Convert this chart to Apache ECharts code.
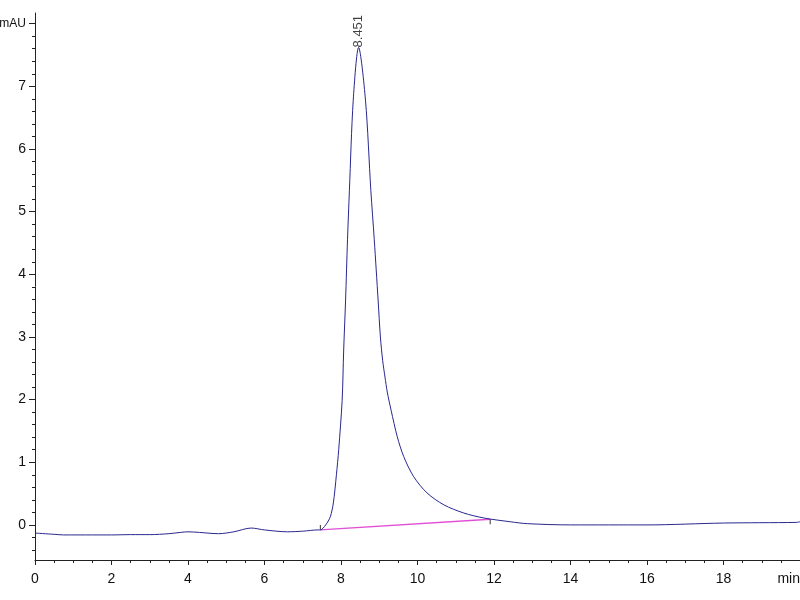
<!DOCTYPE html>
<html>
<head>
<meta charset="utf-8">
<script src="https://cdn.jsdelivr.net/npm/echarts@6/dist/echarts.min.js"></script>
<style>html,body{margin:0;padding:0;background:#fff}#c{width:800px;height:600px}</style>
</head>
<body>
<div id="c"></div>
<script>
// Retention time (min) and signal (mAU)
var times = [0, 0.5, 0.75, 1.5, 2.0, 2.5, 3.0, 3.5, 3.8, 4.0, 4.3, 4.8, 5.2, 5.65, 6.0, 6.6, 7.0, 7.4, 7.46, 7.6, 7.72, 7.8, 7.88, 7.94, 8.03, 8.07, 8.12, 8.17, 8.22, 8.32, 8.46, 8.64, 8.78, 8.87, 8.97, 9.03, 9.09, 9.15, 9.21, 9.31, 9.47, 9.64, 9.90, 10.25, 10.69, 11.21, 11.74, 12.43, 12.87, 14, 16, 18, 19.9, 20];
var signal = [-0.13, -0.15, -0.16, -0.16, -0.16, -0.155, -0.155, -0.14, -0.12, -0.11, -0.12, -0.14, -0.11, -0.05, -0.08, -0.11, -0.10, -0.08, -0.08, 0.0, 0.13, 0.35, 0.80, 1.20, 1.99, 2.79, 3.59, 4.55, 5.34, 6.78, 7.62, 6.78, 5.34, 4.55, 3.59, 3.0, 2.62, 2.36, 2.12, 1.83, 1.41, 1.09, 0.77, 0.51, 0.32, 0.19, 0.11, 0.05, 0.02, 0.0, 0.0, 0.03, 0.04, 0.05];
// Integration baseline
var baseTimes = [7.46, 11.9];
var baseValues = [-0.08, 0.09];
// Peak annotation
var peakTime = [8.451];
var peakHeight = [7.62];
var peakNames = ['8.451'];
// Axis ticks
var yMajor = [0, 1, 2, 3, 4, 5, 6, 7, 8];
var yMinor = [];
for (var i = -2; i <= 40; i++) { yMinor.push(+(i * 0.2).toFixed(1)); }

var mainData = times.map(function (t, i) { return [t, signal[i]]; });
var baseData = baseTimes.map(function (t, i) { return [t, baseValues[i]]; });
var markL = [[baseTimes[0], baseValues[0]], [baseTimes[0], baseValues[0] + 0.08]];
var markR = [[baseTimes[1], baseValues[1]], [baseTimes[1], baseValues[1] - 0.08]];
var peakData = peakTime.map(function (t, i) { return { value: [t, peakHeight[i]], name: peakNames[i] }; });

var FONT = "'Liberation Sans Narrow', 'Liberation Sans', Arial, sans-serif";
var AX = '#222';
var chart = echarts.init(document.getElementById('c'), null, { renderer: 'canvas' });
chart.setOption({
  backgroundColor: '#fff',
  animation: false,
  grid: { left: 35, right: 0, top: 13, bottom: 40, containLabel: false, outerBoundsMode: 'none' },
  xAxis: {
    type: 'value', min: 0, max: 20, interval: 2,
    axisLine: { show: true, onZero: false, lineStyle: { color: AX, width: 1 } },
    axisTick: { show: true, length: 5, lineStyle: { color: AX } },
    minorTick: { show: true, splitNumber: 4, length: 3, lineStyle: { color: AX } },
    splitLine: { show: false },
    axisLabel: {
      color: '#111', fontFamily: FONT, fontSize: 14, margin: 12,
      showMaxLabel: true, alignMaxLabel: 'right',
      formatter: function (v) { return v === 20 ? 'min' : String(v); }
    }
  },
  yAxis: [{
    type: 'value', min: -0.56, max: 8.17,
    axisLine: { show: true, onZero: false, lineStyle: { color: AX, width: 1 } },
    axisTick: { show: true, length: 6, customValues: yMajor, lineStyle: { color: AX } },
    splitLine: { show: false },
    axisLabel: {
      color: '#111', fontFamily: FONT, fontSize: 14, margin: 9,
      customValues: yMajor,
      formatter: function (v) { return v === 8 ? '{u|mAU}' : String(v); },
      rich: { u: { fontSize: 12, fontFamily: FONT, color: '#111' } }
    }
  }, {
    type: 'value', min: -0.56, max: 8.17, position: 'left',
    axisLine: { show: false },
    axisTick: { show: true, length: 3, customValues: yMinor, lineStyle: { color: AX } },
    axisLabel: { show: false },
    splitLine: { show: false }
  }],
  series: [{
    type: 'line', data: baseData, symbol: 'none', silent: true,
    lineStyle: { color: '#e04fd6', width: 1.3 }, z: 2
  }, {
    type: 'line', data: markL, symbol: 'none', silent: true,
    lineStyle: { color: '#333', width: 1 }, z: 3
  }, {
    type: 'line', data: markR, symbol: 'none', silent: true,
    lineStyle: { color: '#333', width: 1 }, z: 3
  }, {
    type: 'line', data: mainData, symbol: 'none', smooth: 0.3, silent: true,
    lineStyle: { color: '#28288f', width: 1 }, z: 4
  }, {
    type: 'scatter', data: peakData, symbolSize: 0, silent: true,
    label: {
      show: true, position: 'top', distance: 0, rotate: 90,
      align: 'left', verticalAlign: 'middle',
      color: '#111', fontFamily: FONT, fontSize: 13,
      formatter: function (p) { return p.name; }
    }, z: 5
  }]
});
</script>
</body>
</html>
